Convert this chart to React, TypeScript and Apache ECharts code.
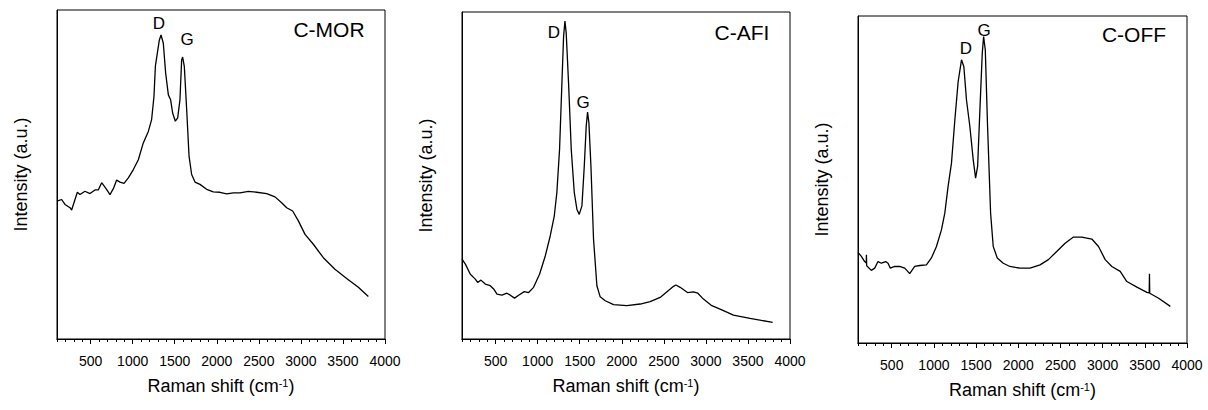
import React, { useEffect, useRef } from "react";
import * as echarts from "echarts";

const FONT = "'Liberation Sans', Arial, Helvetica, sans-serif";

const panelTitles = ["C-MOR", "C-AFI", "C-OFF"];
const majorTicks = [500, 1000, 1500, 2000, 2500, 3000, 3500, 4000];

// C-MOR spectrum
const morShift = [100, 155, 195, 255, 274, 314, 342, 373, 433, 492, 552, 591, 631, 683, 730, 770, 809, 849, 897, 948, 1008, 1067, 1126, 1186, 1225, 1253, 1270, 1285, 1317, 1337, 1364, 1392, 1424, 1451, 1475, 1507, 1535, 1562, 1582, 1594, 1614, 1642, 1670, 1701, 1741, 1800, 1879, 1958, 2038, 2117, 2196, 2276, 2375, 2474, 2593, 2692, 2771, 2831, 2902, 2970, 3049, 3148, 3267, 3405, 3544, 3683, 3802];
const morIntensity = [41.9, 42.4, 40.9, 39.9, 39.2, 42.4, 44.6, 43.9, 44.9, 44.2, 45.3, 45.3, 47.5, 45.7, 43.9, 45.7, 48.3, 47.7, 47.3, 49.0, 51.5, 54.5, 59.6, 63.1, 66.7, 73.7, 83.0, 85.5, 90.9, 92.4, 89.9, 80.8, 74.2, 72.7, 68.7, 66.2, 67.2, 72.7, 84.8, 85.7, 82.8, 69.7, 55.6, 50.0, 47.7, 47.0, 45.5, 44.7, 44.6, 44.1, 44.4, 44.4, 44.9, 44.6, 44.2, 43.2, 41.4, 39.9, 38.9, 35.9, 31.8, 28.8, 24.7, 21.2, 18.4, 15.7, 12.9];

// C-AFI spectrum
const afiShift = [100, 140, 199, 258, 286, 325, 377, 436, 476, 516, 575, 634, 674, 725, 773, 840, 892, 951, 1022, 1090, 1149, 1197, 1228, 1260, 1288, 1308, 1324, 1339, 1367, 1399, 1435, 1466, 1494, 1526, 1554, 1577, 1593, 1609, 1633, 1664, 1704, 1743, 1803, 1902, 2060, 2219, 2337, 2456, 2555, 2615, 2643, 2694, 2781, 2852, 2904, 2971, 3070, 3189, 3327, 3525, 3794];
const afiIntensity = [24.4, 22.9, 19.8, 18.3, 17.3, 18.0, 16.8, 16.3, 15.3, 13.7, 13.4, 14.0, 13.4, 12.5, 13.4, 14.5, 14.2, 15.8, 19.8, 25.4, 31.5, 37.6, 44.8, 58.0, 78.3, 92.6, 97.2, 93.6, 78.3, 58.0, 44.8, 39.7, 38.1, 40.7, 52.9, 65.1, 69.4, 66.1, 52.9, 30.5, 16.3, 12.9, 11.7, 10.5, 10.2, 10.7, 11.4, 12.7, 14.8, 16.1, 16.5, 15.8, 14.2, 14.4, 14.0, 12.2, 10.2, 8.9, 7.3, 6.3, 5.1];

// C-OFF spectrum
const offShift = [100, 140, 179, 198, 200, 203, 258, 298, 337, 377, 428, 456, 483, 535, 594, 654, 713, 772, 832, 911, 970, 1030, 1089, 1129, 1168, 1208, 1248, 1287, 1327, 1355, 1386, 1426, 1466, 1494, 1518, 1545, 1573, 1589, 1609, 1636, 1672, 1703, 1751, 1822, 1901, 2020, 2139, 2258, 2357, 2456, 2555, 2654, 2753, 2872, 2951, 3030, 3109, 3208, 3287, 3406, 3525, 3552, 3555, 3558, 3664, 3802];
const offIntensity = [27.7, 26.5, 24.9, 24.5, 27.0, 23.6, 22.2, 22.9, 24.9, 24.4, 24.9, 24.4, 22.9, 23.4, 23.4, 22.9, 21.2, 23.4, 23.7, 23.9, 26.0, 29.5, 34.6, 39.7, 47.9, 55.0, 68.2, 79.9, 86.6, 84.5, 74.3, 66.2, 56.0, 50.4, 54.0, 71.3, 88.6, 93.7, 89.6, 66.2, 39.7, 29.5, 26.0, 24.4, 23.4, 22.9, 22.9, 23.9, 25.5, 28.0, 30.5, 32.4, 32.4, 31.8, 29.5, 25.5, 23.4, 21.9, 18.8, 17.1, 15.5, 15.3, 21.2, 15.2, 13.7, 11.2];

const shifts = [morShift, afiShift, offShift];
const intensities = [morIntensity, afiIntensity, offIntensity];

const grids = [
  { left: 57, top: 10, width: 328, height: 329 },
  { left: 462, top: 12, width: 328, height: 327 },
  { left: 858, top: 16, width: 329, height: 327 },
];

const titlePos = [
  [329, 29],
  [742, 32],
  [1134, 34],
];
const peakLabels = [
  { D: [159, 23], G: [187, 39] },
  { D: [554, 32], G: [583, 102] },
  { D: [966, 48], G: [984, 30] },
];

export default function App() {
  const ref = useRef<HTMLDivElement>(null);
  useEffect(() => {
    if (!ref.current) return;
    const chart = echarts.init(ref.current, undefined, { renderer: "svg" });

    const grid = grids.map((g) => ({
      ...g,
      show: true,
      borderColor: "#000",
      borderWidth: 1,
      backgroundColor: "transparent",
      containLabel: false,
    }));

    const mainX = grids.map((_, i) => ({
      type: "value",
      gridIndex: i,
      position: "bottom",
      min: 100,
      max: 4000,
      splitLine: { show: false },
      axisLine: { show: true, lineStyle: { color: "#000", width: 1 } },
      axisTick: {
        show: true,
        inside: false,
        length: 5,
        customValues: majorTicks,
        lineStyle: { color: "#000", width: 1 },
      },
      axisLabel: {
        show: true,
        customValues: majorTicks,
        formatter: (v: number) => String(v),
        margin: 15,
        color: "#000",
        fontSize: 14,
        fontFamily: FONT,
      },
      name: "Raman shift (cm{s|-1})",
      nameLocation: "middle",
      nameGap: 38,
      nameTextStyle: {
        color: "#000",
        fontSize: 18,
        fontFamily: FONT,
        rich: {
          s: { fontSize: 11, fontFamily: FONT, color: "#000", verticalAlign: "top", lineHeight: 10 },
        },
      },
    }));

    const minorX = grids.map((_, i) => ({
      type: "value",
      gridIndex: i,
      position: "bottom",
      min: 100,
      max: 4000,
      interval: 100,
      splitLine: { show: false },
      axisLine: { show: true, lineStyle: { color: "#000", width: 1 } },
      axisTick: {
        show: true,
        inside: false,
        length: 3,
        lineStyle: { color: "#000", width: 1 },
      },
      axisLabel: { show: false },
    }));

    const yAxes = grids.map((_, i) => ({
      type: "value",
      gridIndex: i,
      min: 0,
      max: 100,
      splitLine: { show: false },
      axisLine: { show: true, lineStyle: { color: "#000", width: 1 } },
      axisTick: { show: false },
      axisLabel: { show: false },
      name: "Intensity (a.u.)",
      nameLocation: "middle",
      nameGap: 27,
      nameTextStyle: { color: "#000", fontSize: 18, fontFamily: FONT },
    }));

    const series = grids.map((_, i) => ({
      type: "line",
      xAxisIndex: i,
      yAxisIndex: i,
      showSymbol: false,
      symbol: "none",
      smooth: false,
      lineStyle: { color: "#000", width: 1.3 },
      data: shifts[i].map((x, k) => [x, intensities[i][k]]),
    }));

    const graphic: any[] = [];
    panelTitles.forEach((t, i) => {
      graphic.push({
        type: "text",
        x: titlePos[i][0],
        y: titlePos[i][1],
        style: { text: t, fontSize: 21, fontFamily: FONT, fill: "#000", align: "center", verticalAlign: "middle" },
      });
      (["D", "G"] as const).forEach((k) => {
        graphic.push({
          type: "text",
          x: peakLabels[i][k][0],
          y: peakLabels[i][k][1],
          style: { text: k, fontSize: 17, fontFamily: FONT, fill: "#000", align: "center", verticalAlign: "middle" },
        });
      });
    });

    chart.setOption({
      animation: false,
      backgroundColor: "#fff",
      grid,
      xAxis: [...mainX, ...minorX],
      yAxis: yAxes,
      series,
      graphic,
    } as any);

    return () => chart.dispose();
  }, []);

  return (
    <div
      ref={ref}
      style={{ position: "absolute", left: 0, top: 0, width: 1208, height: 410, background: "#fff" }}
    />
  );
}
